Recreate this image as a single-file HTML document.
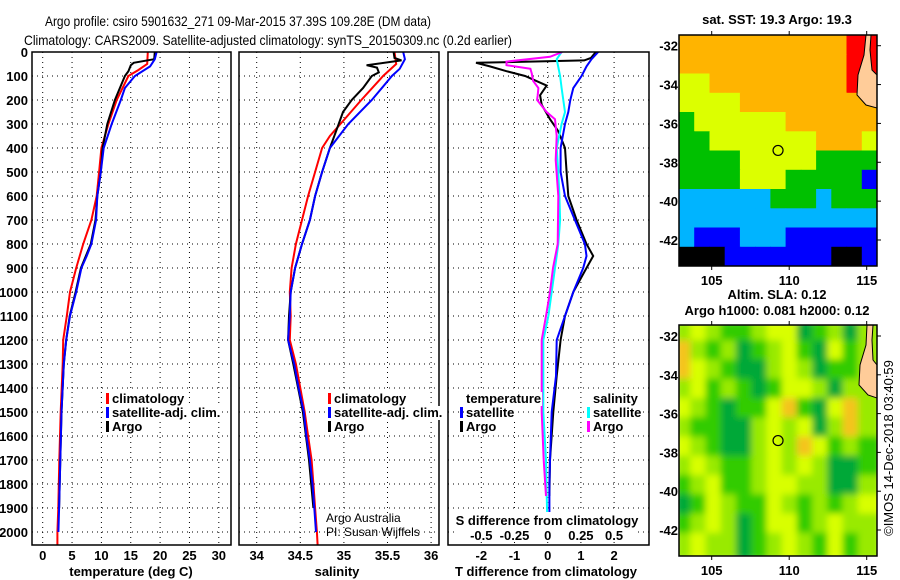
<!DOCTYPE html>
<html><head><meta charset="utf-8"><style>
html,body{margin:0;padding:0;background:#fff;}
svg{display:block;font-family:"Liberation Sans",sans-serif;}
.tk{font-size:13px;font-weight:bold;fill:#000;}
.ttl{font-size:14px;fill:#000;}
</style></head><body>
<svg id="chart" width="900" height="580" viewBox="0 0 900 580" xmlns="http://www.w3.org/2000/svg">
<defs>
<clipPath id="cp1"><rect x="32" y="52" width="199" height="493"/></clipPath>
<clipPath id="cp2"><rect x="239" y="52" width="200" height="493"/></clipPath>
<clipPath id="cp3"><rect x="448" y="52" width="201" height="493"/></clipPath>
<clipPath id="cm1"><rect x="679" y="35" width="198" height="231"/></clipPath>
<clipPath id="cm2"><rect x="679" y="325" width="198" height="231"/></clipPath>
<filter id="blur"><feGaussianBlur stdDeviation="3.5"/></filter>
</defs>
<text class="ttl" x="45" y="26" textLength="386" lengthAdjust="spacingAndGlyphs">Argo profile: csiro 5901632_271 09-Mar-2015 37.39S 109.28E (DM data)</text>
<text class="ttl" x="24" y="45" textLength="488" lengthAdjust="spacingAndGlyphs">Climatology: CARS2009. Satellite-adjusted climatology: synTS_20150309.nc (0.2d earlier)</text>
<g id="g"></g>
</svg>
<script>
// ---- data ----
const depthTicks = [0,100,200,300,400,500,600,700,800,900,1000,1100,1200,1300,1400,1500,1600,1700,1800,1900,2000];
const tempTicks = [0,5,10,15,20,25,30];
const salTicks = [34,34.5,35,35.5,36];
const salTickLabels = ["34","34.5","35","35.5","36"];
const diffTTicks = [-2,-1,0,1,2];
const diffSTicks = [-0.5,-0.25,0,0.25,0.5];
const diffSTickLabels = ["-0.5","-0.25","0","0.25","0.5"];
const tempClim = [[0,17.9],[50,17.8],[75,16.3],[100,14.6],[200,12.6],[300,11.2],[400,10.0],[500,9.6],[600,9.2],[700,8.3],[800,6.9],[900,5.7],[1000,4.65],[1100,4.1],[1200,3.5],[1300,3.4],[1500,3.07],[1700,2.83],[1900,2.66],[2000,2.5],[2060,2.5]];
const tempSat = [[0,19.4],[30,19.1],[60,18.3],[100,15.7],[150,14.0],[200,13.3],[300,11.75],[400,10.4],[500,9.9],[600,9.3],[700,9.1],[800,8.3],[850,7.5],[900,6.6],[1000,5.7],[1100,4.65],[1200,4.0],[1300,3.6],[1500,3.2],[1700,3.0],[1900,2.8],[2000,2.67]];
const tempArgo = [[0,19.1],[30,19.0],[45,15.5],[55,15.0],[80,14.6],[100,14.0],[200,12.3],[300,11.0],[400,10.2],[500,9.9],[600,9.3],[700,9.0],[800,8.2],[900,6.5],[1000,5.6],[1100,4.6],[1200,4.0],[1300,3.6],[1500,3.2],[1700,3.0],[1900,2.8]];
const salClim = [[0,35.58],[50,35.60],[100,35.45],[200,35.20],[300,34.96],[350,34.84],[400,34.75],[500,34.67],[600,34.59],[700,34.52],[800,34.45],[900,34.40],[1000,34.38],[1100,34.39],[1200,34.38],[1300,34.45],[1400,34.50],[1500,34.55],[1600,34.59],[1700,34.63],[1800,34.65],[1900,34.67],[2000,34.69],[2060,34.70]];
const salSat = [[0,35.68],[30,35.70],[70,35.64],[100,35.55],[200,35.32],[300,35.05],[400,34.84],[500,34.75],[600,34.67],[700,34.61],[800,34.52],[900,34.44],[1000,34.39],[1100,34.38],[1200,34.36],[1300,34.43],[1400,34.48],[1500,34.54],[1600,34.57],[1700,34.61],[1800,34.64],[1900,34.66],[2000,34.68]];
const salArgo = [[0,35.57],[25,35.58],[35,35.66],[55,35.26],[65,35.38],[85,35.40],[100,35.32],[150,35.22],[200,35.09],[250,34.99],[300,34.94],[400,34.84],[500,34.75],[600,34.67],[700,34.61],[800,34.52],[900,34.44],[1000,34.39],[1100,34.37],[1200,34.36],[1300,34.42],[1500,34.53],[1700,34.60],[1900,34.65]];
const dTSat = [[0,1.52],[30,1.32],[60,1.17],[100,1.02],[150,0.77],[200,0.68],[250,0.62],[300,0.52],[400,0.39],[500,0.39],[600,0.52],[700,0.82],[800,1.12],[850,1.17],[900,1.07],[1000,0.77],[1100,0.52],[1200,0.27],[1350,0.25],[1500,0.12],[1700,0.07],[1800,0.05],[2000,0.05]];
const dTArgo = [[0,1.45],[25,1.3],[35,1.1],[45,-2.16],[60,-1.74],[80,-1.24],[100,-0.68],[140,-0.03],[180,-0.23],[220,-0.18],[280,0.07],[330,0.32],[400,0.52],[500,0.57],[600,0.62],[700,0.87],[800,1.17],[850,1.37],[900,1.17],[1000,0.77],[1100,0.52],[1200,0.39],[1350,0.27],[1500,0.17],[1700,0.07],[1850,0.05]];
const dSSat = [[0,0.105],[30,0.068],[100,0.093],[150,0.105],[250,0.13],[300,0.105],[400,0.068],[500,0.08],[600,0.088],[700,0.093],[800,0.08],[850,0.068],[900,0.055],[1000,0.03],[1100,0.005],[1200,-0.033],[1350,-0.033],[1500,-0.033],[1700,-0.013],[1900,-0.005],[2000,0]];
const dSArgo = [[0,0.11],[20,0.017],[40,-0.31],[55,-0.31],[70,-0.13],[90,-0.12],[120,-0.11],[150,-0.07],[180,-0.075],[200,-0.08],[250,-0.008],[280,0.055],[350,0.068],[450,0.06],[600,0.08],[800,0.075],[900,0.04],[1000,0.017],[1100,-0.013],[1200,-0.045],[1350,-0.045],[1500,-0.045],[1700,-0.03],[1850,-0.013]];
const mapLonTicks = [105,110,115];
const mapLatTicks = [-32,-34,-36,-38,-40,-42];
const floatPos = [109.28,-37.39];
const sstGrid = ["OOOOOOOOOOORR","OOOOOOOOOOORR","YYOOOOOOOOORL","YYYYOOOOOOOOO","GYYYYYYOOOOOO","GGYYYYYYYOOOY","GGGGYYYYYGGGG","GGGGYYYGGGGGB","CCCCCCGGGCGGG","CCCCCCCCCCCCC","CBBBCCCBBBBBB","KKKBBBBBBBKKB"];
const slaGrid = ["LYLGGLYYDGLDL","OLGLDGLYGDYGL","OYLGDDLYLDGGL","LYGLGDGYYLDLL","YLGDGGYOGDYOL","LGGDDLYLYDLOL","YLGDDLYLOYGLG","LYLGGLYLYLDDG","GLYGGLYYLLDDL","DGYLGGYLGLGLY","GLYLDGYYGLYLL","LYLLDGLYLGYGL"];
const sstColors = {O:"#ffb400",R:"#ff0000",L:"#ffcc99",Y:"#dcff00",G:"#00c000",C:"#00b4ff",B:"#0000ff",K:"#000000"};
const slaColors = {L:"#99ea00",Y:"#d8ff00",G:"#33cc00",D:"#00a838",O:"#f4c41c"};

// ---- helpers ----
const NS="http://www.w3.org/2000/svg";
const root=document.getElementById('g');
function mk(tag,attrs,parent){const e=document.createElementNS(NS,tag);for(const k in attrs)e.setAttribute(k,attrs[k]);(parent||root).appendChild(e);return e;}
function txt(x,y,s,cls,anchor,parent){const t=mk('text',{x:x,y:y,class:cls||'tk','text-anchor':anchor||'start'},parent);t.textContent=s;return t;}
const yD=d=>52+d*0.24;
const xT=t=>42.7+t*5.87;
const xS=s=>256.7+(s-34)*87.2;
const xD=t=>547.7+t*33.2;
const lonX=lon=>711.7+(lon-105)*15.5;
const latY1=lat=>45.7+(-32-lat)*19.43;
const latY2=lat=>336+(-32-lat)*19.4;

function panel(x0,x1,xTicks,xf,name){
  const g=mk('g',{});
  
  
  xTicks.forEach(v=>{const x=xf(v);mk('line',{x1:x,y1:52,x2:x,y2:545,stroke:'#000','stroke-width':1,'stroke-dasharray':'1,4'},g);});
  depthTicks.forEach(d=>{const y=yD(d);mk('line',{x1:x0,y1:y,x2:x1,y2:y,stroke:'#000','stroke-width':1,'stroke-dasharray':'1,4'},g);});
  return g;
}
function series(arr,xf,color,clip,name){
  const pts=arr.map(p=>xf(p[1]).toFixed(1)+','+yD(p[0]).toFixed(1)).join(' ');
  const l=mk('polyline',{points:pts,fill:'none',stroke:color,'stroke-width':2,'clip-path':'url(#'+clip+')'});
  
  
}
function frame(x0,x1,name){const r=mk('rect',{x:x0,y:52,width:x1-x0,height:493,fill:'none',stroke:'#000','stroke-width':1.5});}

// depth labels
depthTicks.forEach(d=>{const t=txt(28,yD(d)+5,String(d),'tk','end');});

// panel 1 temperature
panel(32,231,tempTicks,xT,'temperature-grid');
series(tempClim,xT,'#ff0000','cp1','temp-climatology-line');
series(tempArgo,xT,'#000000','cp1','temp-argo-line');
series(tempSat,xT,'#0000ff','cp1','temp-satellite-line');
frame(32,231,'temperature-panel-frame');
tempTicks.forEach(v=>{const t=txt(xT(v),560,String(v),'tk','middle');});
txt(131,576,'temperature (deg C)','tk','middle');

// panel 2 salinity
panel(239,439,salTicks,xS,'salinity-grid');
series(salClim,xS,'#ff0000','cp2','sal-climatology-line');
series(salArgo,xS,'#000000','cp2','sal-argo-line');
series(salSat,xS,'#0000ff','cp2','sal-satellite-line');
frame(239,439,'salinity-panel-frame');
salTicks.forEach((v,i)=>{const t=txt(xS(v),560,salTickLabels[i],'tk','middle');});
txt(337,576,'salinity','tk','middle');
txt(326,522,'Argo Australia','tk').setAttribute('style','font-weight:normal;font-size:12px');
txt(326,536,'PI: Susan Wijffels','tk').setAttribute('style','font-weight:normal;font-size:12px');

// panel 3 differences
panel(448,649,diffTTicks,xD,'difference-grid');
series(dTArgo,xD,'#000000','cp3','dT-argo-line');
series(dTSat,xD,'#0000ff','cp3','dT-satellite-line');
series(dSSat,s=>xD(s*4),'#00ffff','cp3','dS-satellite-line');
series(dSArgo,s=>xD(s*4),'#ff00ff','cp3','dS-argo-line');
frame(448,649,'difference-panel-frame');
diffTTicks.forEach(v=>{const t=txt(xD(v),560,String(v),'tk','middle');});
txt(546,576,'T difference from climatology','tk','middle');
mk('rect',{x:458,y:512,width:178,height:29,fill:'#fff'});
txt(547,525,'S difference from climatology','tk','middle');
diffSTicks.forEach((v,i)=>{const t=txt(xD(v*4),540,diffSTickLabels[i],'tk','middle');});

// legends
function legend(x,y,items,name){
  const g=mk('g',{});
  
  
  items.forEach((it,i)=>{
    const yy=y+i*14;
    if(it[1]){mk('rect',{x:x,y:yy-10,width:3,height:11,fill:it[1]},g);}
    const bg=mk('rect',{x:x+5,y:yy-11,width:10,height:14,fill:'#fff'},g);
    const t=txt(x+6,yy,it[0],'tk','start',g);
    bg.setAttribute('width',(t.getComputedTextLength()+2).toFixed(1));
  });
}
legend(106,403,[['climatology','#ff0000'],['satellite-adj. clim.','#0000ff'],['Argo','#000000']],'temp-legend');
legend(328,403,[['climatology','#ff0000'],['satellite-adj. clim.','#0000ff'],['Argo','#000000']],'sal-legend');
legend(460,403,[['temperature',null],['satellite','#0000ff'],['Argo','#000000']],'dT-legend');
legend(587,403,[['salinity',null],['satellite','#00ffff'],['Argo','#ff00ff']],'dS-legend');

// maps
function map(grid,colors,y0,latY,clip,blur,name,landPath){
  const g=mk('g',{'clip-path':'url(#'+clip+')'});
  
  
  const inner=mk('g',blur?{filter:'url(#blur)'}:{},g);
  const cw=198/13,ch=231/12;
  grid.forEach((row,r)=>{[...row].forEach((c,k)=>{
    mk('rect',{x:(679+k*cw-(blur?4:0)).toFixed(1),y:(y0+r*ch-(blur?4:0)).toFixed(1),width:(cw+(blur?8:0.6)).toFixed(1),height:(ch+(blur?8:0.6)).toFixed(1),fill:colors[c]},inner);
  });});
  mk('path',{d:landPath,fill:'#ffcc99',stroke:'#000','stroke-width':1},g);
  const fx=lonX(floatPos[0]),fy=latY(floatPos[1]);
  const c=mk('circle',{cx:fx,cy:fy,r:5,fill:'none',stroke:'#000','stroke-width':1.2},g);
  
  
  mk('rect',{x:679,y:y0,width:198,height:231,fill:'none',stroke:'#000','stroke-width':1.5});
  mapLonTicks.forEach(v=>{const x=lonX(v);mk('line',{x1:x,y1:y0,x2:x,y2:y0-4,stroke:'#000'});mk('line',{x1:x,y1:y0+231,x2:x,y2:y0+235,stroke:'#000'});
    const t=txt(x,y0+250,String(v),'tk','middle');});
  mapLatTicks.forEach(v=>{const y=latY(v);mk('line',{x1:877,y1:y,x2:881,y2:y,stroke:'#000'});
    const t=txt(678,y+5,String(v),'tk','end');});
}
map(sstGrid,sstColors,35,latY1,'cm1',false,'sst-map','M866,35 L864,55 L858,75 L857,95 L866,105 L877,108 L877,75 L872,70 L870,50 L871,35 Z');
map(slaGrid,slaColors,325,latY2,'cm2',true,'sla-map','M867,325 L866,345 L860,365 L859,385 L868,395 L877,398 L877,365 L873,360 L872,340 L873,325 Z');
txt(777,24,'sat. SST: 19.3 Argo: 19.3','tk','middle');
txt(777,299,'Altim. SLA: 0.12','tk','middle');
txt(777,315,'Argo h1000: 0.081 h2000: 0.12','tk','middle');
const stamp=txt(0,0,'©IMOS 14-Dec-2018 03:40:59','tk','middle');
stamp.setAttribute('style','font-weight:normal;font-size:13px');
stamp.setAttribute('transform','translate(893,448) rotate(-90)');


</script>
</body></html>
